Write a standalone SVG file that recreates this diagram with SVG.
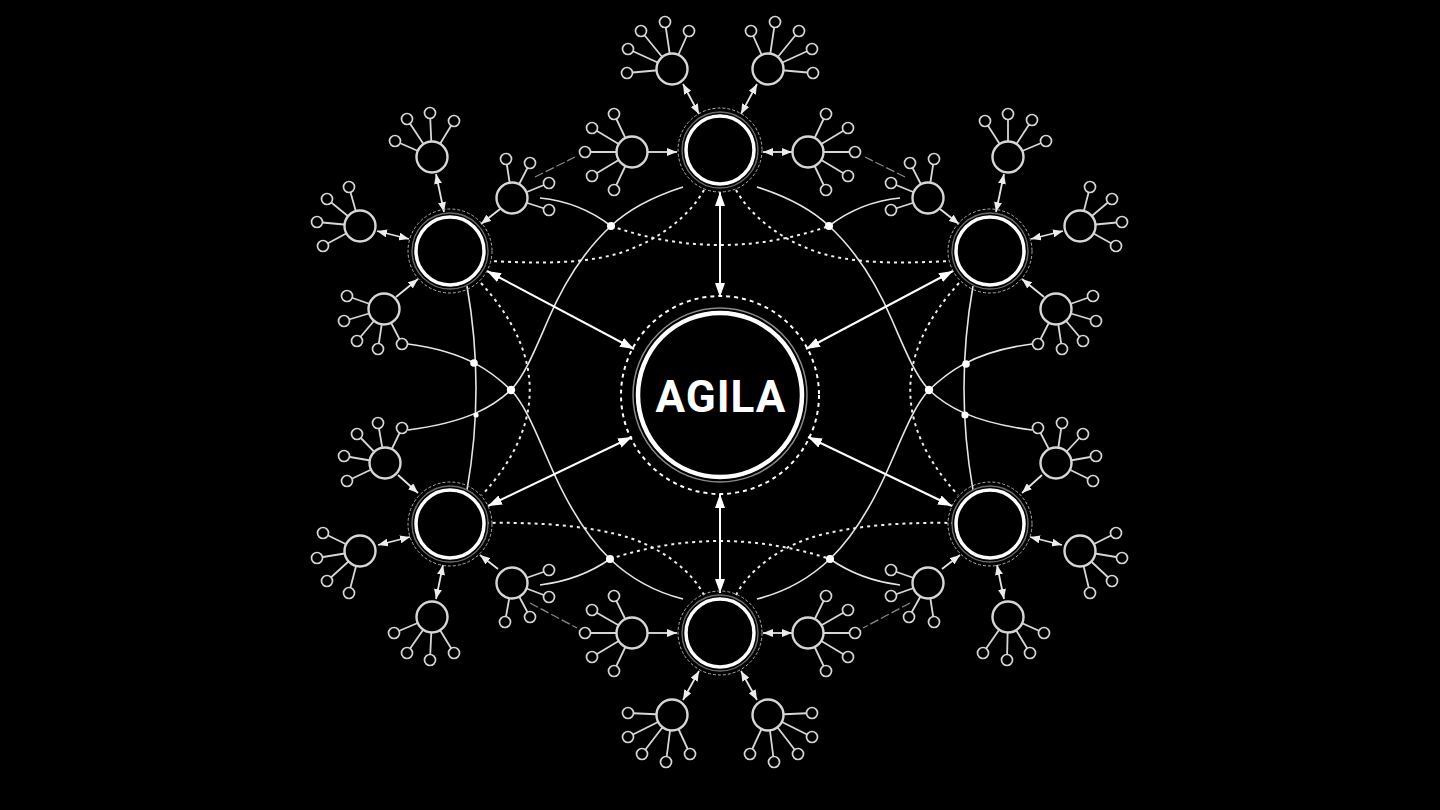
<svg xmlns="http://www.w3.org/2000/svg" width="1440" height="810" viewBox="0 0 1440 810">
<defs>
<marker id="s" viewBox="0 0 10 8" refX="10" refY="4" markerWidth="10" markerHeight="8" markerUnits="userSpaceOnUse" orient="auto-start-reverse"><path d="M0,0L10,4L0,8z" fill="#ececec"/></marker>
<marker id="b" viewBox="0 0 14 10" refX="14" refY="5" markerWidth="14" markerHeight="10" markerUnits="userSpaceOnUse" orient="auto-start-reverse"><path d="M0,0L14,5L0,10z" fill="#fff"/></marker>
</defs>
<style>
.sol{fill:none;stroke:#e6e6e6;stroke-width:1.6}
.dot{fill:none;stroke:#f0f0f0;stroke-width:2;stroke-dasharray:3 4}
.faint{fill:none;stroke:#8a8a8a;stroke-width:1.3;stroke-dasharray:9 3}
.big{fill:none;stroke:#fff;stroke-width:2;marker-start:url(#b);marker-end:url(#b)}
.ha{fill:none;stroke:#e4e4e4;stroke-width:1.8;marker-end:url(#s)}
.hd{marker-start:url(#s)}
.j{fill:#fff}
.hub path{fill:none;stroke:#d6d6d6;stroke-width:1.8}
.hub circle{fill:#000;stroke:#d6d6d6;stroke-width:2.4}
.hub circle.l{stroke-width:1.7}
.rd{fill:none;stroke:#b0b0b0;stroke-width:1;stroke-dasharray:3 2}
.rg{fill:none;stroke:#6a6a6a;stroke-width:1.4}
.rw{fill:#000;stroke:#fff;stroke-width:3.5}
</style>
<rect width="1440" height="810" fill="#000"/>

<g id="connectors">
<!-- left side curves -->
<path class="sol" d="M467,286 Q485,388 467,490"/>
<path class="dot" d="M481,283 Q578,390 482,495"/>
<path class="sol" d="M683,187 C655,196 630,208 611,226 C585,250 565,280 548,320 C535,350 525,375 511,390 C495,405 470,422 408,430"/>
<path class="sol" d="M683,599 C655,592 630,578 610,559 C585,535 565,500 548,460 C535,430 525,405 511,390 C495,375 470,352 408,344"/>
<path class="sol" d="M540,198 Q580,202 611,226"/>
<path class="sol" d="M540,585 Q580,580 610,559"/>
<path class="dot" d="M704,190 C690,215 660,240 620,253 C580,265 530,263 490,261"/>
<path class="dot" d="M704,595 C692,572 665,550 630,538 C590,525 530,522 488,523"/>
<path class="faint" d="M535,177 L575,157"/>
<path class="faint" d="M530,603 L577,628"/>
<!-- right side curves -->
<path class="sol" d="M973,286 Q955,388 973,490"/>
<path class="dot" d="M959,283 Q862,390 958,495"/>
<path class="sol" d="M757,187 C785,196 810,208 829,226 C855,250 875,280 892,320 C905,350 915,375 929,390 C945,405 970,422 1032,430"/>
<path class="sol" d="M757,599 C785,592 810,578 830,559 C855,535 875,500 892,460 C905,430 915,405 929,390 C945,375 970,352 1032,344"/>
<path class="sol" d="M900,198 Q860,202 829,226"/>
<path class="sol" d="M900,585 Q860,580 830,559"/>
<path class="dot" d="M736,190 C750,215 780,240 820,253 C860,265 910,263 950,261"/>
<path class="dot" d="M736,595 C748,572 775,550 810,538 C850,525 910,522 952,523"/>
<path class="faint" d="M905,177 L865,157"/>
<path class="faint" d="M910,603 L863,628"/>
<!-- middle arcs -->
<path class="dot" d="M611,226 Q720,264 829,226"/>
<path class="dot" d="M610,559 Q720,523 830,559"/>
<!-- junction dots -->
<circle class="j" cx="611" cy="226" r="4"/>
<circle class="j" cx="829" cy="226" r="4"/>
<circle class="j" cx="610" cy="559" r="4"/>
<circle class="j" cx="830" cy="559" r="4"/>
<circle class="j" cx="474" cy="363" r="3.8"/>
<circle class="j" cx="511" cy="390" r="4.2"/>
<circle class="j" cx="476" cy="415" r="2.6"/>
<circle class="j" cx="966" cy="364" r="3.8"/>
<circle class="j" cx="929" cy="390" r="4.2"/>
<circle class="j" cx="965" cy="415" r="3.6"/>
<!-- center arrows -->
<path class="big" d="M720,192 L720,297"/>
<path class="big" d="M720,593 L720,494"/>
<path class="big" d="M487,271 L634,349"/>
<path class="big" d="M953,271 L806,349"/>
<path class="big" d="M488,506 L632,437"/>
<path class="big" d="M952,506 L808,437"/>
<!-- hub arrows -->
<path class="ha hd" d="M683,84 L699,114"/>
<path class="ha hd" d="M757,84 L741,114"/>
<path class="ha" d="M648,152 L677,152"/>
<path class="ha hd" d="M792,152 L763,152"/>
<path class="ha" d="M648,633 L677,633"/>
<path class="ha hd" d="M792,633 L763,633"/>
<path class="ha hd" d="M683,700 L699,671"/>
<path class="ha hd" d="M757,700 L741,671"/>
<path class="ha hd" d="M436,174 L444,212"/>
<path class="ha hd" d="M377,231 L409,239"/>
<path class="ha" d="M500,209 L481,224"/>
<path class="ha" d="M396,297 L418,279"/>
<path class="ha" d="M398,475 L418,493"/>
<path class="ha hd" d="M378,545 L410,537"/>
<path class="ha hd" d="M436,599 L443,565"/>
<path class="ha" d="M498,569 L480,555"/>
<path class="ha hd" d="M1004,174 L996,212"/>
<path class="ha hd" d="M1063,231 L1031,239"/>
<path class="ha" d="M940,209 L959,224"/>
<path class="ha" d="M1044,297 L1022,279"/>
<path class="ha" d="M1042,475 L1022,493"/>
<path class="ha hd" d="M1062,545 L1030,537"/>
<path class="ha hd" d="M1004,599 L997,565"/>
<path class="ha" d="M942,569 L960,555"/>
</g>

<g id="hubs">
<g id="h1" class="hub"><path d="M672,69L627,73M672,69L628,49M672,69L641,31M672,69L665,22M672,69L689,31"/><circle cx="672" cy="69" r="15.5"/><circle class="l" cx="627" cy="73" r="5.5"/><circle class="l" cx="628" cy="49" r="5.5"/><circle class="l" cx="641" cy="31" r="5.5"/><circle class="l" cx="665" cy="22" r="5.5"/><circle class="l" cx="689" cy="31" r="5.5"/></g>
<g id="h2" class="hub"><path d="M768,69L751,31M768,69L775,22M768,69L799,31M768,69L812,49M768,69L813,73"/><circle cx="768" cy="69" r="15.5"/><circle class="l" cx="751" cy="31" r="5.5"/><circle class="l" cx="775" cy="22" r="5.5"/><circle class="l" cx="799" cy="31" r="5.5"/><circle class="l" cx="812" cy="49" r="5.5"/><circle class="l" cx="813" cy="73" r="5.5"/></g>
<g id="h3" class="hub"><path d="M632,152L614,114M632,152L592,128M632,152L585,152M632,152L592,176M632,152L614,190"/><circle cx="632" cy="152" r="15.5"/><circle class="l" cx="614" cy="114" r="5.5"/><circle class="l" cx="592" cy="128" r="5.5"/><circle class="l" cx="585" cy="152" r="5.5"/><circle class="l" cx="592" cy="176" r="5.5"/><circle class="l" cx="614" cy="190" r="5.5"/></g>
<g id="h4" class="hub"><path d="M808,152L826,114M808,152L848,128M808,152L855,152M808,152L848,176M808,152L826,190"/><circle cx="808" cy="152" r="15.5"/><circle class="l" cx="826" cy="114" r="5.5"/><circle class="l" cx="848" cy="128" r="5.5"/><circle class="l" cx="855" cy="152" r="5.5"/><circle class="l" cx="848" cy="176" r="5.5"/><circle class="l" cx="826" cy="190" r="5.5"/></g>
<g id="h5" class="hub"><path d="M632,633L614,596M632,633L592,610M632,633L585,633M632,633L592,657M632,633L614,671"/><circle cx="632" cy="633" r="15.5"/><circle class="l" cx="614" cy="596" r="5.5"/><circle class="l" cx="592" cy="610" r="5.5"/><circle class="l" cx="585" cy="633" r="5.5"/><circle class="l" cx="592" cy="657" r="5.5"/><circle class="l" cx="614" cy="671" r="5.5"/></g>
<g id="h6" class="hub"><path d="M808,633L826,596M808,633L848,610M808,633L855,633M808,633L848,657M808,633L826,671"/><circle cx="808" cy="633" r="15.5"/><circle class="l" cx="826" cy="596" r="5.5"/><circle class="l" cx="848" cy="610" r="5.5"/><circle class="l" cx="855" cy="633" r="5.5"/><circle class="l" cx="848" cy="657" r="5.5"/><circle class="l" cx="826" cy="671" r="5.5"/></g>
<g id="h7" class="hub"><path d="M672,715L628,713M672,715L628,737M672,715L642,754M672,715L666,762M672,715L690,754"/><circle cx="672" cy="715" r="15.5"/><circle class="l" cx="628" cy="713" r="5.5"/><circle class="l" cx="628" cy="737" r="5.5"/><circle class="l" cx="642" cy="754" r="5.5"/><circle class="l" cx="666" cy="762" r="5.5"/><circle class="l" cx="690" cy="754" r="5.5"/></g>
<g id="h8" class="hub"><path d="M768,715L812,713M768,715L812,737M768,715L798,754M768,715L774,762M768,715L750,754"/><circle cx="768" cy="715" r="15.5"/><circle class="l" cx="812" cy="713" r="5.5"/><circle class="l" cx="812" cy="737" r="5.5"/><circle class="l" cx="798" cy="754" r="5.5"/><circle class="l" cx="774" cy="762" r="5.5"/><circle class="l" cx="750" cy="754" r="5.5"/></g>
<g id="h9" class="hub"><path d="M432,157L395,141M432,157L407,119M432,157L430,113M432,157L454,121"/><circle cx="432" cy="157" r="15.5"/><circle class="l" cx="395" cy="141" r="5.5"/><circle class="l" cx="407" cy="119" r="5.5"/><circle class="l" cx="430" cy="113" r="5.5"/><circle class="l" cx="454" cy="121" r="5.5"/></g>
<g id="h10" class="hub"><path d="M360,226L349,187M360,226L327,199M360,226L317,222M360,226L323,246"/><circle cx="360" cy="226" r="15.5"/><circle class="l" cx="349" cy="187" r="5.5"/><circle class="l" cx="327" cy="199" r="5.5"/><circle class="l" cx="317" cy="222" r="5.5"/><circle class="l" cx="323" cy="246" r="5.5"/></g>
<g id="h11" class="hub"><path d="M512,198L506,159M512,198L530,163M512,198L549,183M512,198L549,210"/><circle cx="512" cy="198" r="15.5"/><circle class="l" cx="506" cy="159" r="5.5"/><circle class="l" cx="530" cy="163" r="5.5"/><circle class="l" cx="549" cy="183" r="5.5"/><circle class="l" cx="549" cy="210" r="5.5"/></g>
<g id="h12" class="hub"><path d="M384,309L347,296M384,309L344,321M384,309L357,341M384,309L378,349M384,309L402,344"/><circle cx="384" cy="309" r="15.5"/><circle class="l" cx="347" cy="296" r="5.5"/><circle class="l" cx="344" cy="321" r="5.5"/><circle class="l" cx="357" cy="341" r="5.5"/><circle class="l" cx="378" cy="349" r="5.5"/><circle class="l" cx="402" cy="344" r="5.5"/></g>
<g id="h13" class="hub"><path d="M385,463L378,423M385,463L402,428M385,463L357,434M385,463L344,456M385,463L347,481"/><circle cx="385" cy="463" r="15.5"/><circle class="l" cx="378" cy="423" r="5.5"/><circle class="l" cx="402" cy="428" r="5.5"/><circle class="l" cx="357" cy="434" r="5.5"/><circle class="l" cx="344" cy="456" r="5.5"/><circle class="l" cx="347" cy="481" r="5.5"/></g>
<g id="h14" class="hub"><path d="M360,551L323,533M360,551L317,558M360,551L327,581M360,551L349,593"/><circle cx="360" cy="551" r="15.5"/><circle class="l" cx="323" cy="533" r="5.5"/><circle class="l" cx="317" cy="558" r="5.5"/><circle class="l" cx="327" cy="581" r="5.5"/><circle class="l" cx="349" cy="593" r="5.5"/></g>
<g id="h15" class="hub"><path d="M432,617L394,633M432,617L407,653M432,617L430,660M432,617L454,653"/><circle cx="432" cy="617" r="15.5"/><circle class="l" cx="394" cy="633" r="5.5"/><circle class="l" cx="407" cy="653" r="5.5"/><circle class="l" cx="430" cy="660" r="5.5"/><circle class="l" cx="454" cy="653" r="5.5"/></g>
<g id="h16" class="hub"><path d="M512,583L549,570M512,583L549,597M512,583L530,617M512,583L505,622"/><circle cx="512" cy="583" r="15.5"/><circle class="l" cx="549" cy="570" r="5.5"/><circle class="l" cx="549" cy="597" r="5.5"/><circle class="l" cx="530" cy="617" r="5.5"/><circle class="l" cx="505" cy="622" r="5.5"/></g>
<g id="h17" class="hub"><path d="M1008,157L985,121M1008,157L1008,114M1008,157L1032,120M1008,157L1046,141"/><circle cx="1008" cy="157" r="15.5"/><circle class="l" cx="985" cy="121" r="5.5"/><circle class="l" cx="1008" cy="114" r="5.5"/><circle class="l" cx="1032" cy="120" r="5.5"/><circle class="l" cx="1046" cy="141" r="5.5"/></g>
<g id="h18" class="hub"><path d="M1080,226L1090,187M1080,226L1112,199M1080,226L1122,222M1080,226L1116,246"/><circle cx="1080" cy="226" r="15.5"/><circle class="l" cx="1090" cy="187" r="5.5"/><circle class="l" cx="1112" cy="199" r="5.5"/><circle class="l" cx="1122" cy="222" r="5.5"/><circle class="l" cx="1116" cy="246" r="5.5"/></g>
<g id="h19" class="hub"><path d="M928,198L934,159M928,198L910,163M928,198L891,183M928,198L891,210"/><circle cx="928" cy="198" r="15.5"/><circle class="l" cx="934" cy="159" r="5.5"/><circle class="l" cx="910" cy="163" r="5.5"/><circle class="l" cx="891" cy="183" r="5.5"/><circle class="l" cx="891" cy="210" r="5.5"/></g>
<g id="h20" class="hub"><path d="M1056,309L1093,296M1056,309L1096,321M1056,309L1083,341M1056,309L1062,349M1056,309L1038,344"/><circle cx="1056" cy="309" r="15.5"/><circle class="l" cx="1093" cy="296" r="5.5"/><circle class="l" cx="1096" cy="321" r="5.5"/><circle class="l" cx="1083" cy="341" r="5.5"/><circle class="l" cx="1062" cy="349" r="5.5"/><circle class="l" cx="1038" cy="344" r="5.5"/></g>
<g id="h21" class="hub"><path d="M1056,463L1038,428M1056,463L1062,423M1056,463L1083,434M1056,463L1096,456M1056,463L1093,481"/><circle cx="1056" cy="463" r="15.5"/><circle class="l" cx="1038" cy="428" r="5.5"/><circle class="l" cx="1062" cy="423" r="5.5"/><circle class="l" cx="1083" cy="434" r="5.5"/><circle class="l" cx="1096" cy="456" r="5.5"/><circle class="l" cx="1093" cy="481" r="5.5"/></g>
<g id="h22" class="hub"><path d="M1080,551L1116,533M1080,551L1122,558M1080,551L1112,581M1080,551L1090,593"/><circle cx="1080" cy="551" r="15.5"/><circle class="l" cx="1116" cy="533" r="5.5"/><circle class="l" cx="1122" cy="558" r="5.5"/><circle class="l" cx="1112" cy="581" r="5.5"/><circle class="l" cx="1090" cy="593" r="5.5"/></g>
<g id="h23" class="hub"><path d="M1008,617L983,653M1008,617L1007,660M1008,617L1030,653M1008,617L1044,633"/><circle cx="1008" cy="617" r="15.5"/><circle class="l" cx="983" cy="653" r="5.5"/><circle class="l" cx="1007" cy="660" r="5.5"/><circle class="l" cx="1030" cy="653" r="5.5"/><circle class="l" cx="1044" cy="633" r="5.5"/></g>
<g id="h24" class="hub"><path d="M928,583L891,570M928,583L891,596M928,583L909,617M928,583L934,622"/><circle cx="928" cy="583" r="15.5"/><circle class="l" cx="891" cy="570" r="5.5"/><circle class="l" cx="891" cy="596" r="5.5"/><circle class="l" cx="909" cy="617" r="5.5"/><circle class="l" cx="934" cy="622" r="5.5"/></g>
</g>

<g id="n-top"><circle class="rd" cx="720" cy="150" r="42"/><circle class="rg" cx="720" cy="150" r="38"/><circle class="rw" cx="720" cy="150" r="34"/></g>
<g id="n-bottom"><circle class="rd" cx="720" cy="633" r="42"/><circle class="rg" cx="720" cy="633" r="38"/><circle class="rw" cx="720" cy="633" r="34"/></g>
<g id="n-tl"><circle class="rd" cx="450" cy="251" r="42"/><circle class="rg" cx="450" cy="251" r="38"/><circle class="rw" cx="450" cy="251" r="34"/></g>
<g id="n-bl"><circle class="rd" cx="450" cy="524" r="42"/><circle class="rg" cx="450" cy="524" r="38"/><circle class="rw" cx="450" cy="524" r="34"/></g>
<g id="n-tr"><circle class="rd" cx="990" cy="251" r="42"/><circle class="rg" cx="990" cy="251" r="38"/><circle class="rw" cx="990" cy="251" r="34"/></g>
<g id="n-br"><circle class="rd" cx="990" cy="524" r="42"/><circle class="rg" cx="990" cy="524" r="38"/><circle class="rw" cx="990" cy="524" r="34"/></g>

<g id="n-center">
<circle cx="720" cy="395" r="99" fill="none" stroke="#fff" stroke-width="2" stroke-dasharray="4 4"/>
<circle cx="720" cy="395" r="87" fill="none" stroke="#8a8a8a" stroke-width="1.5"/>
<circle cx="720" cy="395" r="82" fill="#000" stroke="#fff" stroke-width="4.5"/>
<text x="721" y="412" text-anchor="middle" font-family="Roboto, 'Liberation Sans', sans-serif" font-weight="700" font-size="44" fill="#fff" letter-spacing="1">AGILA</text>
</g>
</svg>
